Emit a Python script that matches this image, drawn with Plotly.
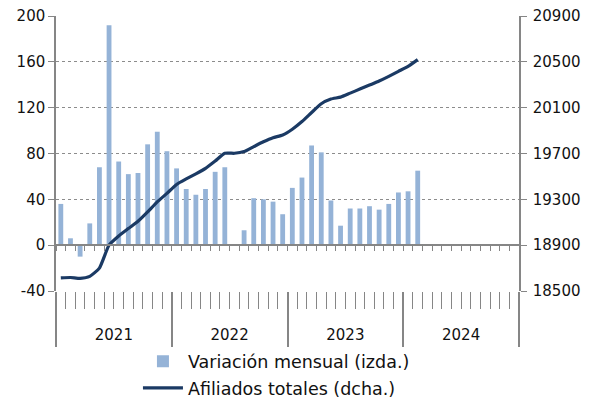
import plotly.graph_objects as go

# ---- data (thousands) ----
years = ["2021", "2022", "2023", "2024"]
month_names = ["ene", "feb", "mar", "abr", "may", "jun", "jul", "ago", "sep", "oct", "nov", "dic"]
months = [f"{m}-{y[2:]}" for y in years for m in month_names]  # 48 monthly categories

variacion_mensual = [
    36, 6, -10, 19, 68, 192, 73, 62, 63, 88, 99, 82,      # 2021
    67, 49, 44, 49, 64, 68, 0, 13, 41, 40, 38, 27,        # 2022
    50, 59, 87, 81, 39, 17, 32, 32, 34, 31, 36, 46,       # 2023
    47, 65,                                              # 2024
]
afiliados_totales = [
    18614, 18618, 18610, 18628, 18700, 18900, 18980, 19045, 19108, 19190, 19278, 19352,
    19430, 19478, 19522, 19570, 19634, 19702, 19702, 19717, 19760, 19802, 19838, 19862,
    19912, 19979, 20058, 20134, 20175, 20192, 20227, 20262, 20297, 20332, 20373, 20417,
    20460, 20519,
]
left_ticks = [-40, 0, 40, 80, 120, 160, 200]
right_ticks = [18500, 18900, 19300, 19700, 20100, 20500, 20900]

# ---- style ----
BAR_COLOR = "#95B3D7"
LINE_COLOR = "#1B3A64"
AXIS_GRAY = "#868686"
GRID_GRAY = "#8C8C8C"
FONT = dict(family="'DejaVu Sans', sans-serif", size=15, color="#111111")
LEGEND_FONT = dict(family="'DejaVu Sans', sans-serif", size=17.5, color="#111111")

n_months = len(months)
xpos_bar = [i + 0.5 for i in range(len(variacion_mensual))]
xpos_line = [i + 0.5 for i in range(len(afiliados_totales))]
month_bounds = list(range(n_months + 1))
year_bounds = [12 * k for k in range(len(years) + 1)]
year_centers = [12 * k + 6 for k in range(len(years))]

fig = go.Figure()
fig.add_trace(go.Bar(
    x=xpos_bar, y=variacion_mensual, name="Variación mensual (izda.)",
    marker=dict(color=BAR_COLOR, line=dict(width=0)), legendgroup="a",
    xaxis="x", yaxis="y", hoverinfo="skip",
))
fig.add_trace(go.Scatter(
    x=xpos_line, y=afiliados_totales, name="Afiliados totales (dcha.)",
    mode="lines", line=dict(color=LINE_COLOR, width=3.2, shape="spline", smoothing=0.5),
    legendgroup="b", xaxis="x", yaxis="y2", hoverinfo="skip",
))
# empty helper traces so the decorative category-label axes get drawn
for ax in ("x2", "x3"):
    fig.add_trace(go.Scatter(x=[], y=[], xaxis=ax, yaxis="y", showlegend=False,
                             hoverinfo="skip", mode="markers"))

xr = [0, n_months]
# the page body adds an 8px margin, so the figure is 8px smaller and margins shifted
fig.update_layout(
    width=582, height=393,
    margin=dict(l=48, r=71, t=8, b=110, autoexpand=False),
    plot_bgcolor="white", paper_bgcolor="white",
    font=FONT,
    bargap=0.5,
    showlegend=True,
    legend=dict(
        orientation="v", xref="paper", x=0.177, xanchor="left",
        yref="paper", y=-0.190, yanchor="top",
        font=LEGEND_FONT, bgcolor="rgba(0,0,0,0)", itemwidth=40, tracegroupgap=1,
    ),
    # category axis crossing at zero, with month ticks
    xaxis=dict(
        range=xr, anchor="free", position=40 / 240,
        showline=True, linecolor=AXIS_GRAY, linewidth=1.5,
        tickmode="array", tickvals=month_bounds, ticks="outside", ticklen=5,
        tickcolor=AXIS_GRAY, tickwidth=1, showticklabels=False,
        showgrid=False, zeroline=False, fixedrange=True,
    ),
    # month separator ticks in the label area
    xaxis2=dict(
        range=xr, overlaying="x", anchor="y", side="bottom",
        showline=False, tickmode="array", tickvals=month_bounds, ticks="outside",
        ticklen=17, tickcolor=AXIS_GRAY, tickwidth=1, showticklabels=False,
        showgrid=False, zeroline=False,
    ),
    # year labels + year separators
    xaxis3=dict(
        range=xr, overlaying="x", anchor="y", side="bottom",
        showline=False, tickmode="array", tickvals=year_centers, ticktext=years,
        ticks="", ticklabelstandoff=33, tickfont=FONT, ticklabeloverflow="allow",
        minor=dict(tickmode="array", tickvals=year_bounds, ticks="outside",
                   ticklen=55, tickcolor=AXIS_GRAY, tickwidth=1.5, showgrid=False),
        showgrid=False, zeroline=False,
    ),
    yaxis=dict(
        range=[-40, 200], tickmode="array", tickvals=left_ticks,
        ticktext=[str(v) for v in left_ticks], ticklabeloverflow="allow",
        showline=True, linecolor=AXIS_GRAY, linewidth=1.5,
        ticks="outside", ticklen=6, tickcolor=AXIS_GRAY, tickwidth=1,
        showgrid=True, gridcolor=GRID_GRAY, griddash="dot", gridwidth=1,
        zeroline=True, zerolinecolor=AXIS_GRAY, zerolinewidth=1.5,
        tickfont=FONT, fixedrange=True,
    ),
    yaxis2=dict(
        range=[18500, 20900], tickmode="array", tickvals=right_ticks,
        ticktext=[str(v) for v in right_ticks], ticklabeloverflow="allow",
        overlaying="y", side="right", anchor="x", ticklabelstandoff=3,
        showline=True, linecolor=AXIS_GRAY, linewidth=1.5,
        ticks="outside", ticklen=6, tickcolor=AXIS_GRAY, tickwidth=1,
        showgrid=False, zeroline=False, tickfont=FONT, fixedrange=True,
    ),
)

fig.write_html("out.html")
